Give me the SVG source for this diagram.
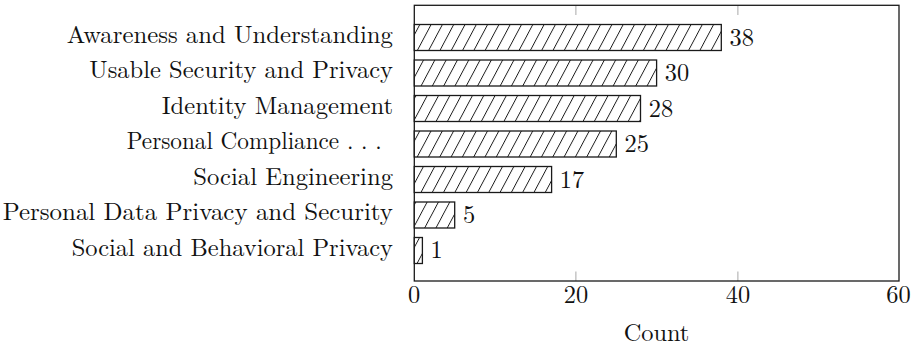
<svg xmlns="http://www.w3.org/2000/svg" width="916" height="347" viewBox="0 0 916 347">
<style>
text{font-family:'Latin Modern Roman','Liberation Serif',serif;font-size:24.4px;fill:#111}
.tick{text-anchor:middle}
.bar{fill:url(#hatch);stroke:#1a1a1a;stroke-width:1.3}
.tk{stroke:#a8a8a8;stroke-width:1}
</style>
<defs>
<pattern id="hatch" patternUnits="userSpaceOnUse" width="11.3" height="10" patternTransform="translate(416.7 50.7) skewX(-28)">
<rect width="11.3" height="10" fill="#fff"/>
<line x1="0.5" y1="-1" x2="0.5" y2="11" stroke="#1a1a1a" stroke-width="1"/>
</pattern>
</defs>
<rect x="0" y="0" width="916" height="347" fill="#fff"/>
<g id="axes">
<line class="tk" x1="575.9" y1="5.3" x2="575.9" y2="15"/>
<line class="tk" x1="737.9" y1="5.3" x2="737.9" y2="15"/>
<line class="tk" x1="575.9" y1="271.5" x2="575.9" y2="281"/>
<line class="tk" x1="737.9" y1="271.5" x2="737.9" y2="281"/>
<rect x="414.3" y="5.3" width="484.7" height="275.7" fill="none" stroke="#1a1a1a" stroke-width="1.3"/>
<text class="tick" x="414" y="303.3">0</text>
<text class="tick" x="575.9" y="303.3">20</text>
<text class="tick" x="737.9" y="303.3">40</text>
<text class="tick" x="898.5" y="303.3">60</text>
<text class="tick" x="656.5" y="340.5">Count</text>
</g>
<g id="bar-awareness">
<rect class="bar" x="414.3" y="24.5" width="307" height="26"/>
<text x="66.7" y="42.5" textLength="326.3" lengthAdjust="spacingAndGlyphs">Awareness and Understanding</text>
<text x="729.5" y="45.8">38</text>
</g>
<g id="bar-usable">
<rect class="bar" x="414.3" y="60" width="242.3" height="26"/>
<text x="89.3" y="78" textLength="303.7" lengthAdjust="spacingAndGlyphs">Usable Security and Privacy</text>
<text x="664.8" y="81.2">30</text>
</g>
<g id="bar-identity">
<rect class="bar" x="414.3" y="95.5" width="226.2" height="26"/>
<text x="161.7" y="113.5" textLength="231.3" lengthAdjust="spacingAndGlyphs">Identity Management</text>
<text x="648.7" y="116.7">28</text>
</g>
<g id="bar-compliance">
<rect class="bar" x="414.3" y="131" width="202" height="26"/>
<text x="126.7" y="149" textLength="255" lengthAdjust="spacingAndGlyphs">Personal Compliance . . .</text>
<text x="624.5" y="152">25</text>
</g>
<g id="bar-social-eng">
<rect class="bar" x="414.3" y="166.5" width="137.3" height="26"/>
<text x="193.3" y="184.5" textLength="199.7" lengthAdjust="spacingAndGlyphs">Social Engineering</text>
<text x="559.8" y="187.5">17</text>
</g>
<g id="bar-personal-data">
<rect class="bar" x="414.3" y="202" width="40.4" height="26"/>
<text x="2.7" y="220" textLength="390.3" lengthAdjust="spacingAndGlyphs">Personal Data Privacy and Security</text>
<text x="462.9" y="223">5</text>
</g>
<g id="bar-social-behav">
<rect class="bar" x="414.3" y="237.5" width="8.1" height="26"/>
<text x="71.7" y="255.5" textLength="321.3" lengthAdjust="spacingAndGlyphs">Social and Behavioral Privacy</text>
<text x="430.6" y="258.3">1</text>
</g>
</svg>
